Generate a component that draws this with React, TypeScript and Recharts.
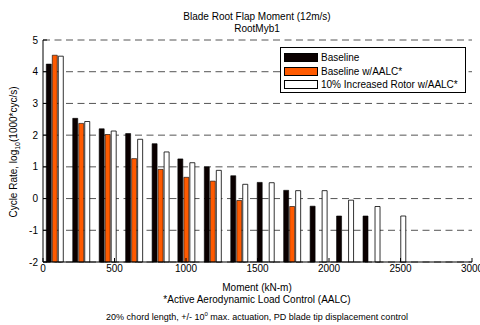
import { Bar, BarChart, CartesianGrid, XAxis, YAxis } from 'recharts';

// bin centres of the moment histogram (kN-m)
const moments = [85, 270, 455, 640, 825, 1005, 1190, 1375, 1560, 1745, 1930, 2115, 2300, 2480];
const baseline = [4.24, 2.53, 2.2, 2.05, 1.73, 1.25, 1.0, 0.72, 0.51, 0.26, -0.24, -0.55, -0.55, null];
const baselineAalc = [4.52, 2.37, 2.02, 1.26, 0.92, 0.67, 0.55, -0.06, null, -0.25, null, null, null, null];
const increasedAalc = [4.49, 2.43, 2.13, 1.87, 1.47, 1.13, 0.89, 0.45, 0.5, 0.25, 0.25, -0.05, -0.25, -0.55];
const xTicks = [0, 500, 1000, 1500, 2000, 2500, 3000];
const yTicks = [-2, -1, 0, 1, 2, 3, 4, 5];
const legendItems = [
  { name: 'Baseline', color: '#0a0000' },
  { name: 'Baseline w/AALC*', color: '#ff5a00' },
  { name: '10% Increased Rotor w/AALC*', color: '#ffffff' },
];

const FLOOR = -2;
const range = (v: number | null) => (v == null ? null : [FLOOR, v]);

const data = moments.map((m, i) => ({
  moment: m,
  base: range(baseline[i]),
  aalc: range(baselineAalc[i]),
  big: range(increasedAalc[i]),
}));

const font = '"Liberation Sans", Arial, sans-serif';
const tickStyle = { fontSize: 10, fill: '#000', fontFamily: font };

const centered = (top: number, size: number): React.CSSProperties => ({
  position: 'absolute',
  left: 257,
  top,
  transform: 'translate(-50%, -50%)',
  whiteSpace: 'nowrap',
  fontSize: size,
  lineHeight: 1,
  color: '#000',
});

export default function App() {
  return (
    <div style={{ position: 'relative', width: 480, height: 325, fontFamily: font, background: '#fff' }}>
      <style>{'body{margin:0}'}</style>
      <BarChart
        width={480}
        height={325}
        data={data}
        margin={{ top: 40, right: 8, left: 0, bottom: 43 }}
        barSize={5}
        barGap={1}
      >
        <CartesianGrid vertical={false} stroke="#555" strokeDasharray="7 4.5" yAxisId="left" />
        <XAxis
          xAxisId="bottom"
          dataKey="moment"
          type="number"
          domain={[0, 3000]}
          ticks={xTicks}
          height={20}
          stroke="#000"
          tick={tickStyle}
          tickSize={-4}
          tickMargin={7}
          interval={0}
        />
        <XAxis
          xAxisId="top"
          orientation="top"
          type="number"
          domain={[0, 3000]}
          ticks={xTicks}
          height={0}
          stroke="#000"
          tick={false}
          tickSize={-4}
        />
        <YAxis
          yAxisId="left"
          type="number"
          domain={[-2, 5]}
          ticks={yTicks}
          width={43}
          stroke="#000"
          tick={tickStyle}
          tickSize={-4}
          tickMargin={9}
          interval={0}
        />
        <YAxis
          yAxisId="right"
          orientation="right"
          type="number"
          domain={[-2, 5]}
          ticks={yTicks}
          width={0}
          stroke="#000"
          tick={false}
          tickSize={-4}
        />
        <Bar xAxisId="bottom" yAxisId="left" dataKey="base" fill="#0a0000" stroke="#000" strokeWidth={0.6} isAnimationActive={false} />
        <Bar xAxisId="bottom" yAxisId="left" dataKey="aalc" fill="#ff5a00" stroke="#000" strokeWidth={0.6} isAnimationActive={false} />
        <Bar xAxisId="bottom" yAxisId="left" dataKey="big" fill="#ffffff" stroke="#000" strokeWidth={0.8} isAnimationActive={false} />
      </BarChart>

      <div style={centered(17, 10)}>Blade Root Flap Moment (12m/s)</div>
      <div style={centered(29, 10)}>RootMyb1</div>

      <div
        style={{
          position: 'absolute',
          left: 280,
          top: 47,
          width: 186,
          height: 46,
          boxSizing: 'border-box',
          border: '1px solid #000',
          background: '#fff',
          fontSize: 10,
          padding: '3px 0 0 3px',
        }}
      >
        {legendItems.map((it) => (
          <div key={it.name} style={{ display: 'flex', alignItems: 'center', height: 13.5 }}>
            <span
              style={{
                display: 'inline-block',
                width: 34,
                height: 9,
                boxSizing: 'border-box',
                border: '1px solid #000',
                background: it.color,
                marginRight: 3,
              }}
            />
            <span>{it.name}</span>
          </div>
        ))}
      </div>

      <div
        style={{
          position: 'absolute',
          left: 15,
          top: 152,
          transform: 'translate(-50%, -50%) rotate(-90deg)',
          whiteSpace: 'nowrap',
          fontSize: 10,
          lineHeight: 1,
        }}
      >
        Cycle Rate, log<sub style={{ fontSize: 7 }}>10</sub>(1000*cyc/s)
      </div>

      <div style={centered(288, 10)}>Moment (kN-m)</div>
      <div style={centered(300, 10)}>*Active Aerodynamic Load Control (AALC)</div>
      <div style={centered(316, 9)}>
        20% chord length, +/- 10<sup style={{ fontSize: 6 }}>0</sup> max. actuation, PD blade tip displacement control
      </div>
    </div>
  );
}
